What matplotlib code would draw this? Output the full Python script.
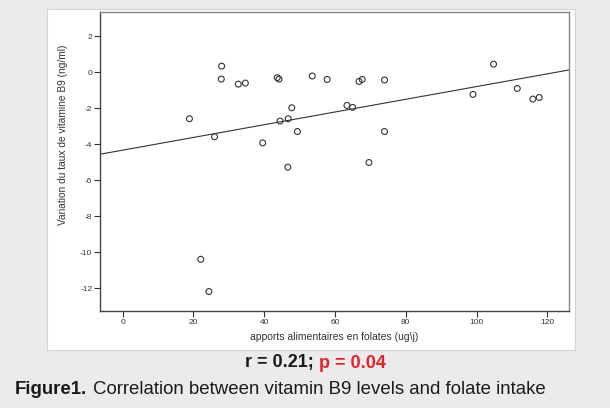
import numpy as np
import matplotlib
matplotlib.use("Agg")
import matplotlib.pyplot as plt
import matplotlib.patches as mpatches

plt.rcParams['font.family'] = ['Liberation Sans', 'DejaVu Sans']

# folate intake (ug/j) vs change in vitamin B9 (ng/ml)
folates = [18.9, 22.1, 24.4, 26.0, 28.0, 27.9, 32.7, 34.7, 39.6, 43.7,
           44.2, 44.5, 46.8, 46.7, 47.8, 49.4, 53.6, 57.8, 63.4, 65.0,
           66.8, 67.7, 69.6, 74.0, 74.0, 99.0, 104.8, 111.5, 115.9, 117.7]
var_b9 = [-2.59, -10.39, -12.18, -3.59, 0.33, -0.39, -0.67, -0.61, -3.93, -0.31,
          -0.39, -2.72, -2.59, -5.28, -1.98, -3.30, -0.22, -0.41, -1.85, -1.96,
          -0.52, -0.41, -5.02, -0.44, -3.30, -1.24, 0.44, -0.91, -1.50, -1.41]

# fit line drawn in the original
fit_intercept = -4.335
fit_slope = 0.0353

x_ticks = [0, 20, 40, 60, 80, 100, 120]
y_ticks = [2, 0, -2, -4, -6, -8, -10, -12]

W, H = 610, 408
fig = plt.figure(figsize=(W / 100, H / 100), dpi=100, facecolor='#ebebeb')

# white panel behind the chart
panel = mpatches.Rectangle((47.3 / W, 1 - 350 / H), 527.4 / W, 341 / H,
                           transform=fig.transFigure, facecolor='white',
                           edgecolor='#d4d4d4', linewidth=0.8, zorder=-1)
fig.patches.append(panel)

ax = fig.add_axes([100 / W, 1 - 311 / H, 469.3 / W, 299.3 / H])
ax.set_zorder(2)
ax.set_xlim(-6.36, 126.2)
ax.set_ylim(-13.26, 3.35)

ax.scatter(folates, var_b9, s=18, facecolors='none', edgecolors='#333333',
           linewidths=0.8, zorder=3)

xl = np.array(ax.get_xlim())
ax.plot(xl, fit_intercept + fit_slope * xl, color='#333333', lw=0.8, zorder=2)

ax.set_xticks(x_ticks)
ax.set_yticks(y_ticks)
ax.set_xticklabels([str(t) for t in x_ticks])
ax.set_yticklabels([str(t) for t in y_ticks])
ax.tick_params(direction='out', length=4, width=0.8, colors='#333333',
               labelsize=6, pad=1.5)

for s in ['left', 'bottom']:
    ax.spines[s].set_color('#444444')
    ax.spines[s].set_linewidth(1.0)
for s in ['top', 'right']:
    ax.spines[s].set_color('#888888')
    ax.spines[s].set_linewidth(1.0)

fig.text(334.6 / W, 1 - 336.7 / H, 'apports alimentaires en folates (ug\\j)',
         ha='center', va='center', fontsize=7.5, color='#333333')
fig.text(63 / W, 1 - 134.5 / H, 'Variation du taux de vitamine B9 (ng/ml)',
         ha='center', va='center', rotation=90, fontsize=7.3, color='#333333')

# caption
fig.text(314 / W, 1 - 363 / H, 'r = 0.21;', ha='right', va='center',
         fontsize=13, fontweight='bold', color='#1a1a1a')
fig.text(319 / W, 1 - 363 / H, 'p = 0.04', ha='left', va='center',
         fontsize=13, fontweight='bold', color='#e3222b')
fig.text(14.4 / W, 1 - 390 / H, 'Figure1.', ha='left', va='center',
         fontsize=13.4, fontweight='bold', color='#1a1a1a')
fig.text(93.4 / W, 1 - 390 / H, 'Correlation between vitamin B9 levels and folate intake',
         ha='left', va='center', fontsize=13.4, color='#1a1a1a')

fig.savefig('out.png', dpi=100, facecolor=fig.get_facecolor())
